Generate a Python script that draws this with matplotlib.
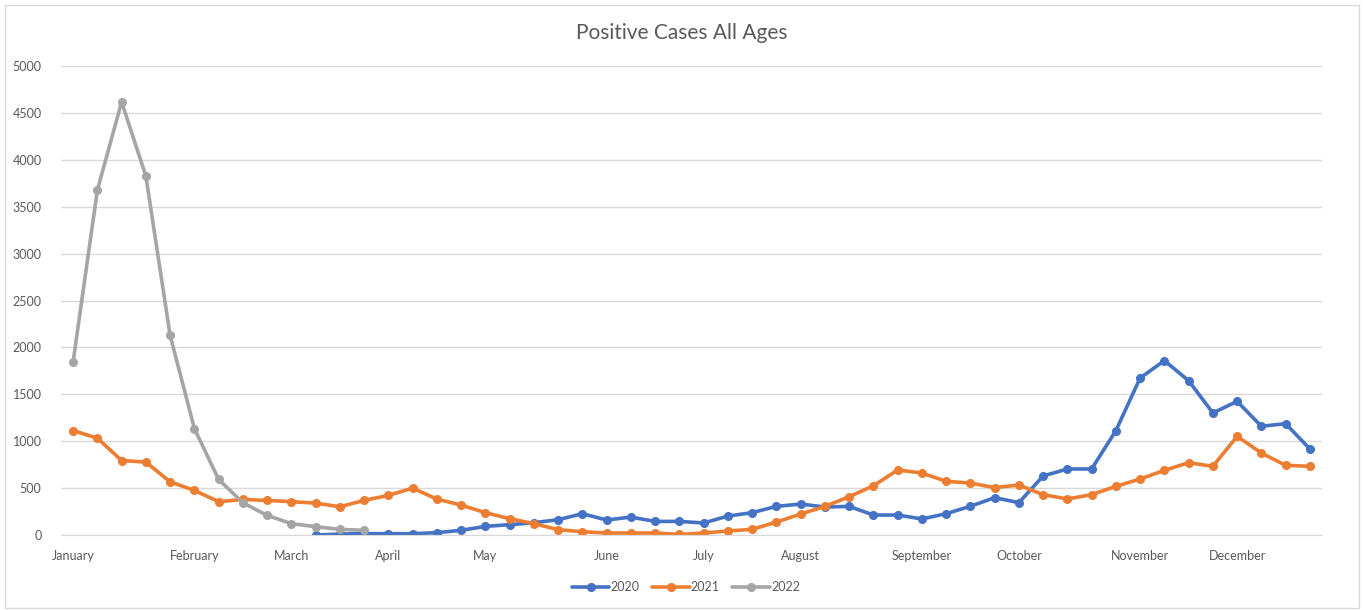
import matplotlib
matplotlib.use("Agg")
import matplotlib.pyplot as plt
from matplotlib.patches import Rectangle
import numpy as np

plt.rcParams['font.family'] = ['Lato', 'DejaVu Sans']

n_weeks = 52
month_labels = ["January", "February", "March", "April", "May", "June",
                "July", "August", "September", "October", "November", "December"]
month_positions = [0, 5, 9, 13, 17, 22, 26, 30, 35, 39, 44, 48]

# 2020 starts at week index 10
cases_2020 = [None] * 10 + [0, 10, 15, 14, 14, 25, 50, 92, 110, 131, 163, 227, 160, 191,
                            145, 145, 128, 202, 238, 305, 330, 298, 305, 213, 213, 171,
                            227, 306, 398, 345, 629, 704, 704, 1112, 1674, 1859, 1645,
                            1301, 1425, 1159, 1187, 917]
cases_2021 = [1113, 1032, 794, 777, 567, 475, 355, 379, 369, 355, 340, 301, 369, 422,
              500, 383, 319, 238, 174, 121, 57, 35, 21, 21, 21, 7, 21, 43, 60, 138,
              223, 305, 408, 525, 693, 661, 572, 554, 505, 533, 430, 384, 430, 519,
              597, 689, 771, 732, 1052, 874, 743, 732]
cases_2022 = [1847, 3677, 4617, 3826, 2128, 1135, 592, 344, 209, 121, 89, 60, 50]

series = [("2020", cases_2020, "#4472C4"),
          ("2021", cases_2021, "#ED7D31"),
          ("2022", cases_2022, "#A5A5A5")]

W, H = 1364, 610
fig = plt.figure(figsize=(W / 100, H / 100), dpi=100)
ax = fig.add_axes([61 / W, (H - 535) / H, (1322 - 61) / W, (535 - 66) / H])

for name, vals, col in series:
    y = np.array([np.nan if v is None else v for v in vals], dtype=float)
    x = np.arange(len(y))
    ax.plot(x, y, color=col, lw=2.6, marker='o', markersize=5.5,
            label=name, solid_capstyle='round', solid_joinstyle='round')

ax.set_xlim(-0.5, n_weeks - 0.5)
ax.set_ylim(0, 5000)
ax.set_yticks(np.arange(0, 5001, 500))
ax.set_xticks(month_positions)
ax.set_xticklabels(month_labels)
ax.grid(axis='y', color='#D9D9D9', lw=1)
ax.set_axisbelow(True)
for s in ['top', 'right', 'left']:
    ax.spines[s].set_visible(False)
ax.spines['bottom'].set_color('#D9D9D9')
ax.tick_params(axis='both', length=0, colors='#595959', labelsize=9)
ax.tick_params(axis='y', pad=14)
ax.tick_params(axis='x', pad=11)

fig.text(0.5, (H - 33) / H, "Positive Cases All Ages", ha='center', va='center',
         fontsize=15, color='#595959')

leg = fig.legend(loc='center', bbox_to_anchor=(686 / W, (H - 587) / H), ncol=3,
                 frameon=False, fontsize=9, handlelength=3, columnspacing=1.0,
                 handletextpad=0.1, labelcolor='#595959')

fig.patches.append(Rectangle((5 / W, 2 / H), (W - 10) / W, (H - 7) / H,
                             transform=fig.transFigure, fill=False,
                             edgecolor='#D9D9D9', lw=1))

fig.savefig("out.png", dpi=100)
